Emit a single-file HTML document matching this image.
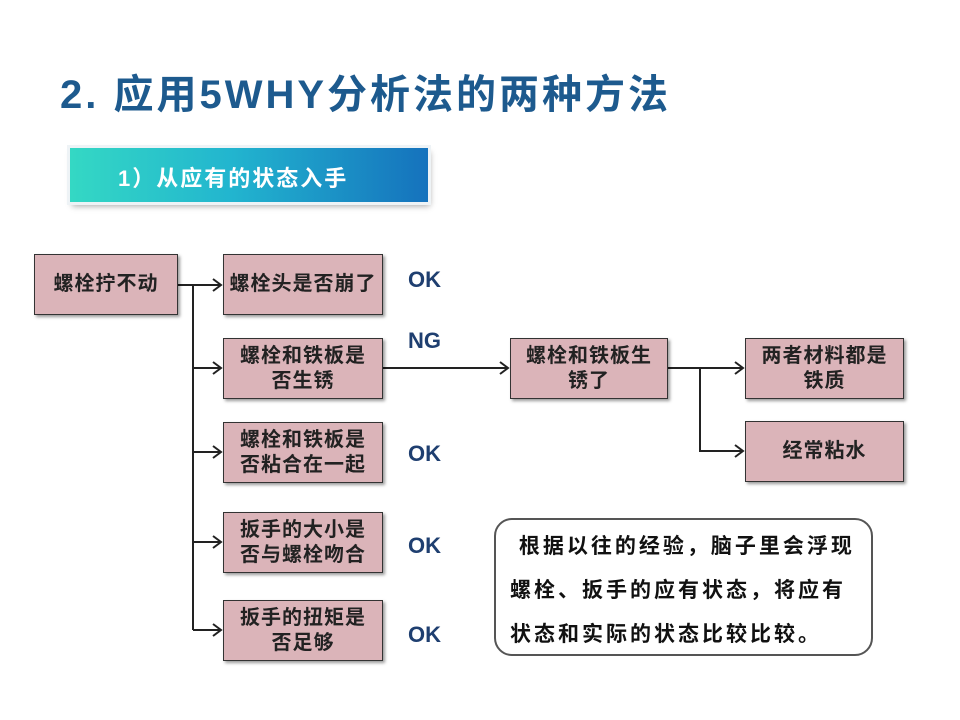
<!DOCTYPE html>
<html><head><meta charset="utf-8"><style>
body{margin:0;width:960px;height:720px;background:#fff;position:relative;overflow:hidden;font-family:"Liberation Sans","Noto Sans CJK SC",sans-serif;}
.t{position:absolute;left:60px;top:62px;font-size:40px;font-weight:bold;color:#1d5a8e;white-space:nowrap;letter-spacing:3px}
.ban{position:absolute;left:70px;top:148px;width:358px;height:54px;background:linear-gradient(90deg,#34d8c4,#22b5cf 45%,#1572bd);box-shadow:0 0 0 3px #eef3f6,2px 4px 6px rgba(0,0,0,.35);}
.ban span{position:absolute;left:48px;top:13px;color:#fff;font-size:22px;font-weight:bold;white-space:nowrap;letter-spacing:2px}
.b{position:absolute;background:#dbb4b9;border:1.5px solid #333;box-shadow:2px 2px 3px rgba(0,0,0,.4);display:flex;align-items:center;justify-content:center;text-align:center;font-size:20px;font-weight:bold;color:#222;line-height:25px;box-sizing:border-box;letter-spacing:1px}
.l{position:absolute;font-size:22px;font-weight:bold;color:#1f3f70}
.note{position:absolute;left:494px;top:518px;width:379px;height:138px;border:2.5px solid #555;border-radius:18px;box-sizing:border-box;font-size:21px;font-weight:bold;color:#111;line-height:44px;padding:5px 0 0 14px;letter-spacing:3px;white-space:nowrap}
</style></head><body>
<div class="t">2. 应用5WHY分析法的两种方法</div>
<div class="ban"><span>1）从应有的状态入手</span></div>
<svg width="960" height="720" style="position:absolute;left:0;top:0">
<g stroke="#222" stroke-width="2" fill="none">
<path d="M178 285H221M193 285V630M193 368H221M193 452H221M193 542H221M193 630H221"/>
<path d="M383 368H508M668 368H743M700 368V451H743"/>
</g>
<g stroke="#222" stroke-width="2" fill="none">
<path d="M213 279L221 285L213 291M213 362L221 368L213 374M213 446L221 452L213 458M213 536L221 542L213 548M213 624L221 630L213 636M500 362L508 368L500 374M735 362L743 368L735 374M735 445L743 451L735 457"/>
</g>
</svg>
<div class="b" style="left:34px;top:254px;width:144px;height:61px">螺栓拧不动</div>
<div class="b" style="left:223px;top:254px;width:160px;height:61px">螺栓头是否崩了</div>
<div class="b" style="left:223px;top:338px;width:160px;height:61px">螺栓和铁板是<br>否生锈</div>
<div class="b" style="left:223px;top:422px;width:160px;height:61px">螺栓和铁板是<br>否粘合在一起</div>
<div class="b" style="left:223px;top:512px;width:160px;height:61px">扳手的大小是<br>否与螺栓吻合</div>
<div class="b" style="left:223px;top:600px;width:160px;height:61px">扳手的扭矩是<br>否足够</div>
<div class="b" style="left:510px;top:338px;width:158px;height:61px">螺栓和铁板生<br>锈了</div>
<div class="b" style="left:745px;top:338px;width:159px;height:61px">两者材料都是<br>铁质</div>
<div class="b" style="left:745px;top:421px;width:159px;height:61px">经常粘水</div>
<div class="l" style="left:408px;top:267px">OK</div>
<div class="l" style="left:408px;top:328px">NG</div>
<div class="l" style="left:408px;top:441px">OK</div>
<div class="l" style="left:408px;top:533px">OK</div>
<div class="l" style="left:408px;top:622px">OK</div>
<div class="note">&nbsp;根据以往的经验，脑子里会浮现<br>螺栓、扳手的应有状态，将应有<br>状态和实际的状态比较比较。</div>
</body></html>
